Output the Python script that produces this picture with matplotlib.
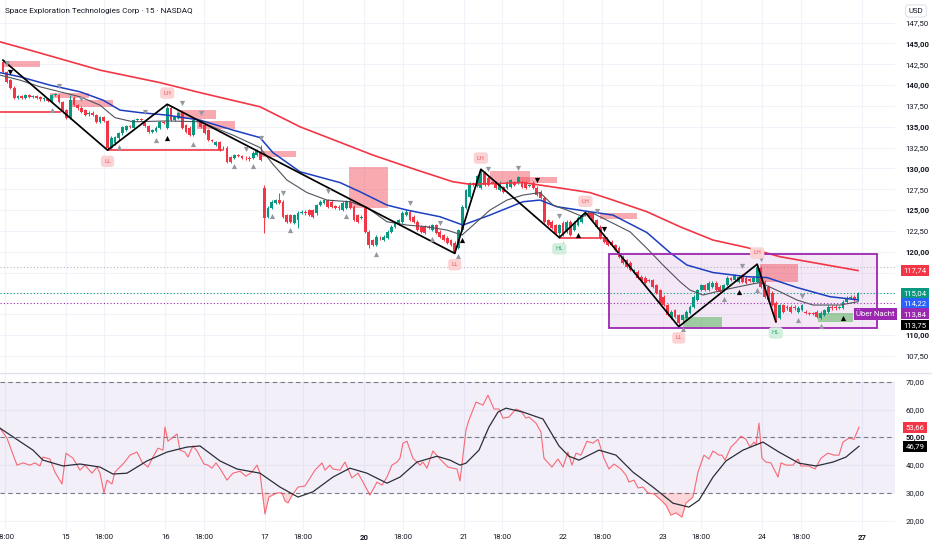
import numpy as np
import matplotlib
matplotlib.use("Agg")
import matplotlib.pyplot as plt
from matplotlib.lines import Line2D
from matplotlib.patches import Rectangle

plt.rcParams['font.family'] = ['Roboto', 'DejaVu Sans']

# ---------------- data ----------------
TITLE = "Space Exploration Technologies Corp · 15 · NASDAQ"
session_labels = ["15", "16", "17", "20", "21", "22", "23", "24", "27"]
session_pos = [0, 1, 2, 3, 4, 5, 6, 7, 8]
bold_sessions = ["20", "27"]
hour_pos = [-0.615, 0.385, 1.385, 2.385, 3.385, 4.385, 5.385, 6.385, 7.385]
hour_labels = ["18:00"] * 9
price_ticks = [107.5, 110.0, 112.5, 115.0, 117.5, 120.0, 122.5, 125.0, 127.5,
               130.0, 132.5, 135.0, 137.5, 140.0, 142.5, 145.0, 147.5]
hidden_price_ticks = [112.5, 115.0, 117.5]   # covered by the price tags
rsi_ticks = [20, 30, 40, 50, 60, 70]

# candles (time in session units, first and last bar)
first_t, last_t = -0.633, 7.96
opens = [
    142.8, 141.6, 140.6, 139.7, 138.5, 138.7, 138.5, 138.8, 138.6, 138.7,
    138.6, 138.3, 138.3, 138.1, 138.8, 138.8, 138.0, 137.0, 136.1, 138.5,
    137.6, 137.3, 137.0, 136.5, 136.7, 136.4, 135.6, 136.2, 135.7, 132.5,
    133.0, 133.6, 134.2, 134.6, 135.1, 134.9, 135.8, 135.9, 135.7, 135.1,
    134.4, 134.5, 134.9, 135.6, 134.9, 137.3, 135.8, 136.1, 136.8, 135.2,
    134.9, 134.0, 135.8, 135.6, 135.2, 134.6, 133.4, 132.8, 133.2, 132.4,
    132.5, 131.4, 131.3, 131.6, 131.5, 131.3, 131.3, 131.3, 131.6, 132.0,
    127.6, 124.2, 125.3, 125.9, 126.2, 126.0, 124.4, 124.4, 123.5, 123.8,
    124.7, 124.8, 125.0, 125.0, 124.6, 125.6, 125.9, 126.2, 126.0, 125.5,
    125.4, 125.0, 125.3, 126.0, 125.4, 124.4, 124.1, 125.3, 122.4, 121.4,
    120.8, 121.7, 121.4, 121.7, 122.4, 123.0, 123.3, 123.6, 124.4, 124.8,
    124.2, 123.6, 123.0, 123.0, 123.0, 122.6, 123.2, 122.4, 122.0, 121.7,
    121.4, 121.1, 120.5, 122.6, 125.3, 126.6, 128.2, 127.9, 127.7, 129.5,
    128.9, 128.4, 128.3, 127.4, 127.8, 127.7, 127.8, 128.4, 128.3, 128.4,
    128.3, 127.9, 128.3, 127.7, 127.2, 126.5, 123.8, 123.6, 123.2, 122.3,
    123.5, 122.4, 123.6, 122.6, 123.2, 123.6, 124.4, 124.6, 124.6, 123.8,
    123.0, 121.8, 121.4, 121.2, 120.8, 120.5, 119.4, 119.0, 118.7, 117.5,
    117.6, 117.0, 116.9, 116.6, 116.6, 116.0, 115.4, 114.6, 113.6, 112.1,
    113.0, 112.4, 111.8, 112.1, 112.7, 113.4, 114.2, 115.4, 116.0, 115.4,
    115.8, 116.3, 115.8, 115.4, 116.0, 116.8, 116.6, 116.4, 117.2, 116.9,
    116.7, 116.4, 116.4, 118.1, 116.4, 115.8, 115.1, 113.9, 112.1, 113.6,
    113.4, 113.4, 113.4, 112.8, 113.0, 112.8, 112.6, 112.6, 112.8, 112.1,
    112.4, 112.8, 113.4, 113.4, 113.3, 113.3, 114.0, 114.5, 114.6, 114.2,
]
closes = [
    141.6, 140.4, 139.7, 138.5, 138.7, 138.5, 138.8, 138.6, 138.7, 138.5,
    138.3, 138.4, 138.1, 138.8, 138.9, 138.0, 136.8, 136.1, 138.2, 137.6,
    137.2, 136.8, 136.4, 136.7, 136.4, 135.6, 136.2, 135.7, 132.4, 133.7,
    133.8, 134.2, 135.0, 135.1, 135.0, 135.8, 135.9, 135.8, 135.1, 134.4,
    134.6, 134.9, 135.6, 135.5, 137.3, 135.8, 136.2, 136.6, 134.9, 134.4,
    134.0, 135.8, 135.9, 135.0, 134.3, 133.4, 133.3, 133.2, 132.2, 132.5,
    130.8, 130.8, 131.6, 131.5, 131.3, 131.2, 131.1, 131.9, 132.2, 131.0,
    124.1, 125.3, 126.0, 126.2, 125.9, 124.2, 123.6, 123.6, 124.4, 124.7,
    124.8, 124.6, 124.4, 124.2, 125.6, 126.0, 126.2, 125.4, 125.4, 125.3,
    125.2, 125.9, 126.0, 125.3, 123.8, 123.6, 124.2, 122.4, 120.8, 120.8,
    121.8, 121.6, 121.8, 122.4, 123.0, 123.5, 123.8, 124.7, 124.8, 123.8,
    123.6, 122.6, 122.4, 122.3, 122.9, 123.2, 122.3, 121.8, 121.4, 121.1,
    120.8, 120.0, 122.6, 125.4, 127.4, 128.2, 128.0, 129.1, 129.6, 128.0,
    128.0, 128.3, 127.7, 128.3, 127.2, 128.4, 128.6, 128.0, 129.0, 127.8,
    127.7, 127.9, 127.7, 126.8, 126.5, 123.6, 123.2, 122.9, 122.3, 123.2,
    122.0, 123.6, 122.0, 123.5, 124.1, 124.4, 124.6, 124.2, 123.8, 123.0,
    121.7, 121.2, 120.8, 120.8, 120.2, 119.4, 118.7, 118.2, 117.8, 117.8,
    116.9, 116.5, 116.3, 116.5, 115.8, 115.1, 113.9, 113.6, 112.4, 112.8,
    112.2, 111.5, 112.4, 112.8, 113.4, 114.6, 115.4, 116.0, 115.4, 116.3,
    116.3, 115.4, 115.2, 116.0, 116.9, 116.6, 117.2, 117.0, 116.4, 116.3,
    116.5, 116.9, 118.2, 115.8, 114.6, 114.2, 113.6, 112.1, 113.6, 112.8,
    113.2, 112.8, 113.2, 113.3, 113.6, 112.7, 112.5, 112.5, 112.2, 112.7,
    113.0, 113.4, 113.2, 113.2, 113.3, 114.0, 114.5, 114.6, 114.2, 115.04,
]
high_wicks = {0: 143.0, 18: 138.8, 44: 137.7, 69: 132.8, 70: 128.0, 74: 127.0,
              128: 129.9, 156: 124.7, 202: 118.5}
low_wicks = {28: 132.2, 70: 122.3, 79: 122.8, 98: 120.4, 121: 119.8, 149: 121.7,
             181: 111.0, 207: 111.6}

# moving averages (session time, price)
red_ma_t = [-0.663, -0.362, 0.342, 0.945, 1.347, 1.950, 2.352, 3.085, 3.528, 3.889,
            4.060, 4.593, 4.935, 5.266, 5.497, 5.839, 6.171, 6.503, 6.844, 7.176,
            7.508, 7.960]
red_ma_v = [145.2, 144.2, 141.8, 140.3, 139.1, 137.4, 135.0, 131.6, 129.8, 128.4,
            128.1, 128.3, 127.7, 127.1, 126.2, 124.8, 123.0, 121.4, 120.5, 119.4,
            118.7, 117.74]
blue_ma_t = [-0.663, -0.462, -0.161, 0.141, 0.372, 0.543, 0.744, 1.015, 1.347, 1.678,
             1.950, 2.080, 2.352, 2.754, 2.955, 3.226, 3.427, 3.759, 3.990, 4.261,
             4.593, 4.764, 4.935, 5.266, 5.497, 5.839, 6.070, 6.241, 6.503, 6.844,
             7.045, 7.347, 7.678, 7.960]
blue_ma_v = [141.5, 141.0, 140.0, 139.2, 138.2, 137.0, 136.7, 136.4, 135.8, 134.6,
             133.7, 131.9, 129.6, 128.3, 127.2, 125.6, 125.0, 124.2, 123.2, 124.4,
             126.0, 126.2, 125.4, 124.8, 124.4, 122.3, 119.9, 118.4, 117.5, 117.0,
             116.9, 115.7, 114.6, 114.22]
grey_ma_t = [-0.663, -0.462, -0.261, -0.060, 0.141, 0.342, 0.492, 0.673, 1.015, 1.347,
             1.678, 1.950, 2.080, 2.221, 2.422, 2.623, 2.854, 3.025, 3.226, 3.427,
             3.628, 3.829, 3.980, 4.131, 4.261, 4.432, 4.593, 4.764, 4.894, 5.035,
             5.196, 5.266, 5.467, 5.668, 5.839, 6.000, 6.171, 6.271, 6.402, 6.603,
             6.844, 6.975, 7.176, 7.347, 7.508, 7.779, 7.960]
grey_ma_v = [141.2, 140.6, 139.8, 139.2, 138.6, 137.6, 136.1, 135.6, 135.7, 135.6,
             134.0, 132.5, 130.5, 128.6, 127.1, 126.2, 126.0, 125.3, 123.6, 123.2,
             123.0, 122.6, 122.0, 123.6, 125.0, 126.2, 126.8, 127.1, 125.6, 125.0,
             124.2, 124.8, 123.6, 122.4, 120.4, 118.4, 116.4, 115.4, 114.8, 115.4,
             116.0, 116.3, 115.2, 114.2, 113.6, 113.6, 114.0]

# zigzag pivots (bar index, kind) and labels
pivots = [(0, 'H'), (28, 'L'), (44, 'H'), (121, 'L'), (128, 'H'), (149, 'L'),
          (156, 'H'), (181, 'L'), (202, 'H'), (207, 'L')]
pivot_labels = {28: 'LL', 44: 'LH', 121: 'LL', 128: 'LH', 149: 'HL', 156: 'LH',
                181: 'LL', 202: 'LH', 207: 'HL'}

# triangle signals (bar index)
grey_down = [1, 15, 21, 38, 48, 53, 65, 69, 75, 87, 109, 117, 130, 138, 149, 159, 198, 203, 214]
grey_up = [13, 31, 41, 51, 62, 67, 72, 77, 92, 100, 115, 122, 150, 182, 193, 202, 207, 213, 219]
black_up = [44, 123, 154, 197, 225]
black_down = [2, 143, 161]

# zones (t0, t1, low, high)
supply_zones = [(-0.633, -0.261, 142.2, 142.9), (-0.161, 0.231, 138.4, 139.05),
                (0.04, 0.472, 137.4, 138.2), (1.116, 1.508, 135.9, 137.0),
                (1.317, 1.698, 134.7, 135.7), (1.950, 2.312, 131.4, 132.1),
                (2.844, 3.236, 125.3, 130.2), (4.261, 4.663, 128.4, 129.7),
                (4.543, 4.935, 128.3, 129.0), (5.367, 5.739, 123.9, 124.65),
                (6.975, 7.357, 116.4, 118.5)]
demand_zones = [(6.201, 6.593, 111.0, 112.2), (7.558, 7.910, 111.55, 112.65)]
range_box = (5.457, 8.151, 110.85, 119.7)
level_lines = [(-0.663, -0.06, 136.74), (0.42, 1.568, 132.2), (4.963, 5.437, 121.7)]
dotted_levels = [(118.2, '#b2b5be'), (115.04, '#089981'), (113.84, '#9c27b0')]

# price tags (value text, display level, colour)
price_tags = [("117,74", 117.74, '#f23645'), ("115,04", 115.04, '#089981'),
              ("114,22", 113.80, '#2962ff'), ("113,84", 112.55, '#9c27b0'),
              ("113,75", 111.20, '#000000')]

# RSI
rsi_t = [-0.663, -0.593, -0.492, -0.432, -0.362, -0.312, -0.261, -0.231, -0.161, -0.111,
         -0.040, 0.0, 0.070, 0.141, 0.191, 0.261, 0.312, 0.342, 0.382, 0.412,
         0.462, 0.492, 0.583, 0.643, 0.714, 0.764, 0.824, 0.874, 0.925, 0.975,
         0.995, 1.025, 1.116, 1.146, 1.196, 1.226, 1.276, 1.317, 1.387, 1.427,
         1.467, 1.508, 1.558, 1.618, 1.678, 1.749, 1.809, 1.869, 1.920, 1.950,
         2.0, 2.040, 2.121, 2.171, 2.201, 2.231, 2.281, 2.332, 2.402, 2.503,
         2.573, 2.603, 2.653, 2.683, 2.754, 2.804, 2.874, 2.935, 2.985, 3.055,
         3.126, 3.176, 3.226, 3.276, 3.327, 3.357, 3.387, 3.427, 3.487, 3.558,
         3.588, 3.628, 3.688, 3.759, 3.839, 3.930, 3.960, 4.020, 4.050, 4.121,
         4.191, 4.241, 4.302, 4.352, 4.392, 4.452, 4.523, 4.573, 4.623, 4.653,
         4.724, 4.774, 4.804, 4.884, 4.945, 4.995, 5.045, 5.085, 5.126, 5.176,
         5.236, 5.296, 5.347, 5.407, 5.457, 5.508, 5.578, 5.628, 5.658, 5.709,
         5.749, 5.799, 5.849, 5.910, 5.980, 6.030, 6.080, 6.131, 6.191, 6.231,
         6.302, 6.352, 6.412, 6.462, 6.503, 6.563, 6.593, 6.623, 6.683, 6.734,
         6.784, 6.834, 6.874, 6.915, 6.935, 6.965, 6.995, 7.035, 7.085, 7.156,
         7.186, 7.236, 7.307, 7.357, 7.387, 7.467, 7.528, 7.588, 7.658, 7.719,
         7.769, 7.809, 7.869, 7.920, 7.970]
rsi_v = [53.3, 49.7, 40.0, 40.8, 40.0, 40.8, 39.7, 42.9, 42.2, 37.5,
         33.2, 44.3, 42.5, 38.2, 40.0, 37.1, 39.3, 37.1, 30.0, 34.6,
         33.2, 37.5, 40.8, 43.6, 44.7, 41.1, 39.3, 42.9, 46.1, 45.4,
         53.7, 48.6, 51.2, 45.4, 44.7, 42.9, 46.9, 45.1, 40.4, 40.0,
         38.9, 40.8, 38.2, 34.6, 37.1, 37.8, 36.0, 37.5, 40.0, 37.1,
         22.4, 28.5, 30.0, 30.0, 27.1, 26.4, 29.6, 32.1, 32.5, 38.2,
         40.8, 38.2, 40.0, 38.6, 38.2, 41.1, 35.4, 37.1, 33.9, 29.2,
         33.9, 32.8, 35.7, 40.0, 41.1, 42.5, 47.9, 48.6, 42.5, 40.0,
         41.1, 38.9, 45.1, 42.2, 39.3, 38.6, 34.3, 52.6, 56.2, 62.7,
         61.6, 65.2, 60.2, 60.2, 56.9, 57.3, 60.2, 59.5, 56.9, 57.3,
         55.1, 51.9, 42.5, 39.3, 42.2, 39.3, 44.7, 40.0, 44.3, 43.6,
         48.6, 47.9, 49.3, 42.5, 38.6, 40.4, 38.6, 36.4, 33.9, 34.6,
         31.8, 32.1, 30.0, 29.6, 27.4, 25.6, 22.0, 22.8, 21.3, 26.3,
         28.5, 37.5, 43.6, 42.2, 45.1, 43.6, 43.6, 41.8, 46.5, 48.3,
         50.4, 49.3, 46.5, 48.3, 47.2, 55.1, 42.5, 41.1, 40.8, 35.7,
         40.8, 40.0, 40.0, 42.2, 39.7, 39.7, 38.6, 42.5, 44.3, 43.6,
         43.6, 48.3, 49.7, 49.3, 53.66]
rsi_ma_t = [-0.663, -0.332, -0.231, -0.030, 0.141, 0.342, 0.472, 0.613, 0.814, 1.015,
            1.216, 1.347, 1.548, 1.719, 1.950, 2.151, 2.332, 2.482, 2.683, 2.854,
            3.025, 3.226, 3.357, 3.528, 3.729, 3.859, 3.960, 4.020, 4.151, 4.251,
            4.342, 4.422, 4.593, 4.794, 4.955, 5.055, 5.156, 5.357, 5.528, 5.698,
            5.899, 6.101, 6.261, 6.362, 6.503, 6.633, 6.804, 7.005, 7.166, 7.367,
            7.538, 7.709, 7.839, 7.970]
rsi_ma_v = [53.3, 45.4, 41.8, 39.7, 40.4, 39.3, 36.8, 37.1, 41.5, 44.7,
            46.5, 46.9, 41.5, 38.6, 37.1, 32.1, 28.5, 30.4, 35.7, 38.9,
            37.1, 33.5, 35.7, 41.1, 43.2, 41.8, 40.0, 40.7, 45.4, 53.7,
            59.1, 60.5, 59.1, 56.6, 46.9, 43.2, 41.8, 45.4, 43.6, 37.5,
            32.1, 26.3, 24.9, 27.4, 35.7, 41.5, 45.4, 48.3, 44.7, 40.7,
            39.7, 41.1, 42.9, 46.79]
rsi_tags = [("53,66", 53.66, '#f23645'), ("46,79", 46.79, '#000000')]

# ---------------- style ----------------
GREEN = '#089981'
RED = '#f23645'
BLUE = '#1c3fbf'
TXT = '#131722'
GRID = '#f0f3fa'
W, H = 932, 550
FS = 5.6

fig = plt.figure(figsize=(W / 100, H / 100), dpi=100)
fig.patch.set_facecolor('white')
ax = fig.add_axes([0, 1 - 372 / H, 895 / W, 372 / H])
rx = fig.add_axes([0, 1 - 530 / H, 895 / W, 156 / H])
XL = (-0.663, 8.332)
for a in (ax, rx):
    a.set_xlim(*XL)
    for s in a.spines.values():
        s.set_visible(False)
    a.set_facecolor('white')
ax.set_ylim(105.56, 150.22)
rx.set_ylim(16.65, 72.8)

# grid
for a in (ax, rx):
    for xp in session_pos + hour_pos:
        a.axvline(xp, color=GRID, lw=0.8, zorder=0)
for p in price_ticks:
    ax.axhline(p, color=GRID, lw=0.8, zorder=0)
for v in rsi_ticks:
    rx.axhline(v, color=GRID, lw=0.8, zorder=0)

# price axis ticks
ax.yaxis.tick_right()
ax.set_yticks(price_ticks)
ax.set_yticklabels(["" if p in hidden_price_ticks else f"{p:.2f}".replace('.', ',')
                    for p in price_ticks])
ax.tick_params(axis='y', length=0, pad=7.5, labelsize=FS, colors=TXT)
for lab, p in zip(ax.get_yticklabels(), price_ticks):
    if p % 5 == 0:
        lab.set_fontweight('bold')
ax.set_xticks([])

rx.yaxis.tick_right()
rx.set_yticks(rsi_ticks)
rx.set_yticklabels([f"{v:.2f}".replace('.', ',') for v in rsi_ticks])
rx.tick_params(axis='y', length=0, pad=7.5, labelsize=FS, colors=TXT)
for lab, v in zip(rx.get_yticklabels(), rsi_ticks):
    if v == 50:
        lab.set_fontweight('bold')
xt = session_pos + hour_pos
xl = session_labels + hour_labels
rx.set_xticks(xt)
rx.set_xticklabels(xl)
rx.tick_params(axis='x', length=0, pad=3, labelsize=FS, colors=TXT)
for lab in rx.get_xticklabels():
    if lab.get_text() in bold_sessions:
        lab.set_fontweight('bold')

# separator
fig.add_artist(Line2D([0, 1], [1 - 373 / H] * 2, color='#e0e3eb', lw=1.0))

# range box and zones
bx = range_box
ax.add_patch(Rectangle((bx[0], bx[2]), bx[1] - bx[0], bx[3] - bx[2], fc='#9c27b0',
                       alpha=0.1, ec='none', zorder=1))
ax.add_patch(Rectangle((bx[0], bx[2]), bx[1] - bx[0], bx[3] - bx[2], fc='none',
                       ec='#9c27b0', lw=1.3, zorder=6))
for t0, t1, lo_, hi_ in supply_zones:
    ax.add_patch(Rectangle((t0, lo_), t1 - t0, hi_ - lo_, fc=RED, alpha=0.42,
                           ec='none', zorder=2))
for t0, t1, lo_, hi_ in demand_zones:
    ax.add_patch(Rectangle((t0, lo_), t1 - t0, hi_ - lo_, fc='#4caf50', alpha=0.5,
                           ec='none', zorder=2))

for lev, colr in dotted_levels:
    ax.axhline(lev, color=colr, lw=0.8, ls=(0, (1, 2)), zorder=1)
for t0, t1, p in level_lines:
    ax.plot([t0, t1], [p, p], color=RED, lw=1.2, zorder=3)

# candles
n = len(closes)
t = np.linspace(first_t, last_t, n)
step = t[1] - t[0]
o = np.array(opens)
c = np.array(closes)
wick_pad = 0.15
hi = np.maximum(o, c) + wick_pad
lo = np.minimum(o, c) - wick_pad
for k, v in high_wicks.items():
    hi[k] = v
for k, v in low_wicks.items():
    lo[k] = v
col = np.where(c >= o, GREEN, RED)
ax.vlines(t, lo, hi, colors=col, lw=0.7, zorder=3)
ax.bar(t, np.maximum(np.abs(c - o), 0.08), bottom=np.minimum(o, c), width=step * 0.76,
       color=col, lw=0, zorder=3)

# moving averages
ax.plot(red_ma_t, red_ma_v, color=RED, lw=1.2, zorder=4)
ax.plot(blue_ma_t, blue_ma_v, color=BLUE, lw=1.1, zorder=4)
ax.plot(grey_ma_t, grey_ma_v, color='#50535e', lw=0.8, zorder=4)

# zigzag
zz_t = [t[i] for i, k in pivots]
zz_p = [hi[i] if k == 'H' else lo[i] for i, k in pivots]
ax.plot(zz_t, zz_p, color='black', lw=1.25, zorder=5)
for i, k in pivots:
    if i in pivot_labels:
        txt = pivot_labels[i]
        if txt == 'HL':
            fc, tc = '#d3eedf', '#3fae7a'
        else:
            fc, tc = '#fcd3d5', '#f0585e'
        y = hi[i] + 1.35 if k == 'H' else lo[i] - 1.35
        ax.text(t[i], y, txt, ha='center', va='center', fontsize=4.6, color=tc,
                zorder=8, bbox=dict(boxstyle='round,pad=0.5', fc=fc, ec='none'))

# triangles
ax.scatter(t[grey_down], hi[grey_down] + 0.9, marker='v', s=14, color='#9598a1', lw=0, zorder=6)
ax.scatter(t[grey_up], lo[grey_up] - 0.9, marker='^', s=14, color='#9598a1', lw=0, zorder=6)
ax.scatter(t[black_up], lo[black_up] - 1.1, marker='^', s=14, color='black', lw=0, zorder=6)
ax.scatter(t[black_down], hi[black_down] + 0.8, marker='v', s=14, color='black', lw=0, zorder=6)

# price tags
for txt, y, colr in price_tags:
    ax.text(1.0225, y, txt, transform=ax.get_yaxis_transform(), ha='center', va='center',
            fontsize=FS, color='white', zorder=10, clip_on=False,
            bbox=dict(boxstyle='square,pad=0.3', fc=colr, ec='none'))
ax.text(0.978, price_tags[3][1], "Über Nacht", transform=ax.get_yaxis_transform(),
        ha='center', va='center', fontsize=FS, color='white', zorder=10, clip_on=False,
        bbox=dict(boxstyle='square,pad=0.3', fc='#9c27b0', ec='none'))

# RSI panel
rx.axhspan(30, 70, color='#7e57c2', alpha=0.09, lw=0, zorder=0.5)
for lev in (70, 50, 30):
    rx.axhline(lev, color='#787b86', lw=0.8, ls=(0, (4, 3)), zorder=1)
rt = np.array(rsi_t)
rv = np.array(rsi_v)
rx.fill_between(rt, rv, 30, where=rv < 30, interpolate=True, color=RED, alpha=0.2,
                lw=0, zorder=2)
rx.plot(rt, rv, color='#f7525f', lw=0.8, alpha=0.85, zorder=3)
rx.plot(rsi_ma_t, rsi_ma_v, color='#2a2e39', lw=0.9, zorder=4)
for txt, y, colr in rsi_tags:
    rx.text(1.0225, y, txt, transform=rx.get_yaxis_transform(), ha='center', va='center',
            fontsize=FS, color='white', zorder=10, clip_on=False,
            bbox=dict(boxstyle='square,pad=0.3', fc=colr, ec='none'))

# title and currency box
fig.text(5 / W, 1 - 11 / H, TITLE, ha='left', va='center', fontsize=5.9, color=TXT)
fig.text(916 / W, 1 - 11 / H, "USD", ha='center', va='center', fontsize=FS, color=TXT,
         bbox=dict(boxstyle='round,pad=0.4', fc='white', ec='#e0e3eb', lw=0.8))

fig.savefig('out.png', dpi=100, facecolor='white')
